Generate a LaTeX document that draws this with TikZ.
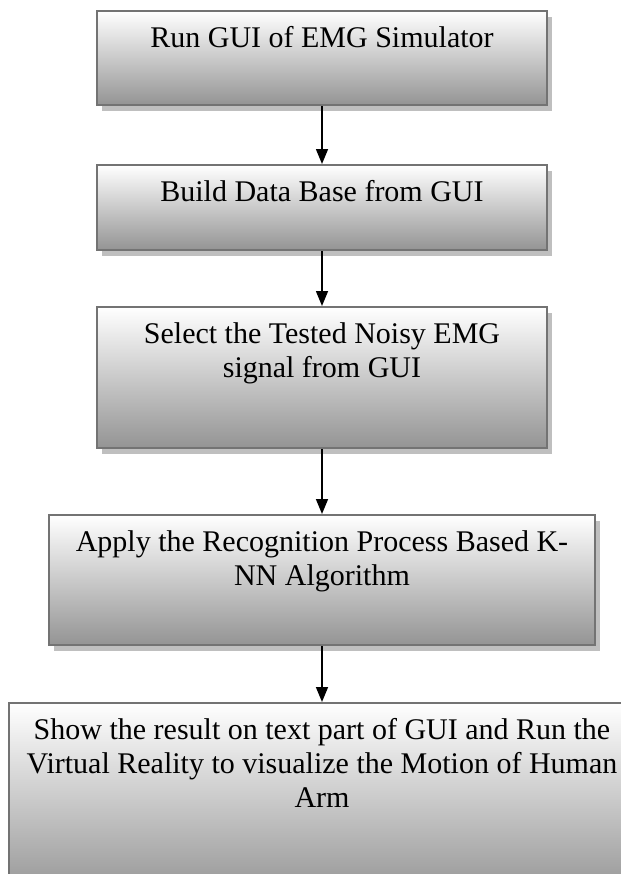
\documentclass[tikz,border=0pt]{standalone}
\usepackage{fontspec}
\setmainfont{Liberation Serif}
\usetikzlibrary{positioning,arrows.meta,shadows}

\tikzset{
  stepbox/.style={draw=black!55, line width=1pt, top color=white, bottom color=black!42,
    drop shadow={shadow xshift=2.5pt, shadow yshift=-3pt, fill=black!25, opacity=1}},
  steptext/.style={align=flush center, inner sep=0pt, anchor=north, text width=300pt,
    font=\fontsize{15}{17}\selectfont},
  connector/.style={line width=0.75pt, -{Triangle[length=7.5pt,width=6pt]}}
}

\begin{document}
\begin{tikzpicture}[x=0.5pt,y=-0.5pt]
        \useasboundingbox (0,0) rectangle (621,874);
        \node[stepbox, minimum width=225pt, minimum height=47pt] (b1) at (322,58) {};
        \node[stepbox, minimum width=225pt, minimum height=42.5pt] (b2) at (322,207.5) {};
        \node[stepbox, minimum width=225pt, minimum height=70.5pt] (b3) at (322,377.5) {};
        \node[stepbox, minimum width=273pt, minimum height=65pt] (b4) at (322,580) {};
        \node[stepbox, minimum width=313pt, minimum height=97pt] (b5) at (322,800) {};
        \node[steptext] (t1) at ([yshift=-6.6pt]b1.north) {\strut Run GUI of EMG Simulator};
        \node[steptext] (t2) at ([yshift=-6.6pt]b2.north) {\strut Build Data Base from GUI};
        \node[steptext] (t3) at ([yshift=-6.6pt]b3.north) {\strut Select the Tested Noisy EMG\\signal from GUI};
        \node[steptext] (t4) at ([yshift=-6.6pt]b4.north) {\strut Apply the Recognition Process Based K-\\NN Algorithm};
        \node[steptext, text width=320pt] (t5) at ([yshift=-6.6pt]b5.north) {\strut Show the result on text part of GUI and Run the\\Virtual Reality to visualize the Motion of Human\\Arm};
        \draw[connector] (b1.south) -- (b2.north);
        \draw[connector] (b2.south) -- (b3.north);
        \draw[connector] (b3.south) -- (b4.north);
        \draw[connector] (b4.south) -- (b5.north);
    \end{tikzpicture}
\end{document}
